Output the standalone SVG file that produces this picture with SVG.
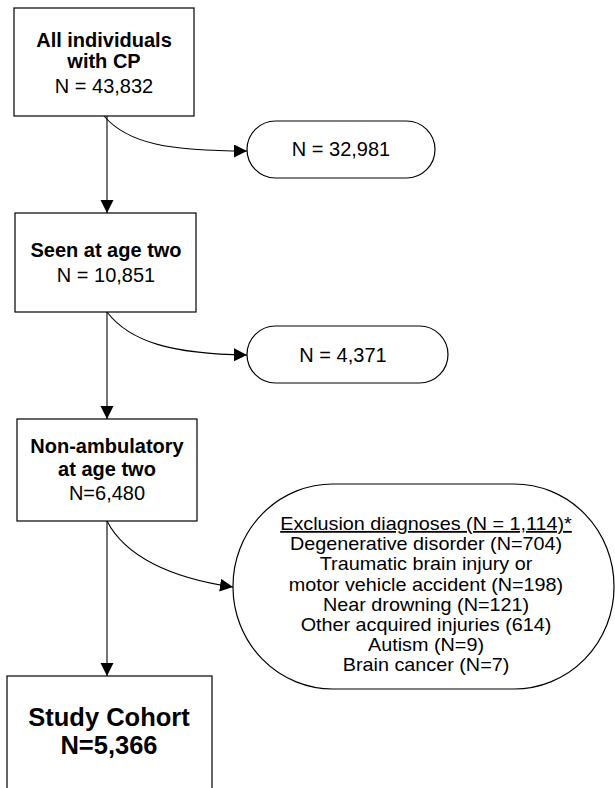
<svg xmlns="http://www.w3.org/2000/svg" width="615" height="788" viewBox="0 0 615 788">
<style>
  .box { fill: #ffffff; stroke: #000000; stroke-width: 1.2; }
  .conn { fill: none; stroke: #000000; stroke-width: 1.1; }
  text { font-family: "Liberation Sans", Arial, sans-serif; fill: #000000; text-anchor: middle; }
  .b { font-weight: bold; font-size: 20px; }
  .r { font-size: 20px; }
  .s { font-size: 18px; }
  .big { font-weight: bold; font-size: 25.5px; }
</style>
<defs>
  <marker id="arrow" markerUnits="userSpaceOnUse" markerWidth="14" markerHeight="14" refX="13" refY="6.5" orient="auto">
    <path d="M0,0 L13,6.5 L0,13 z" fill="#000000"/>
  </marker>
</defs>
<rect width="615" height="788" fill="#ffffff"/>

<g id="connectors">
  <path class="conn" d="M107,116 L107,213" marker-end="url(#arrow)"/>
  <path class="conn" d="M104,116 C128,144 170,151 247,151" marker-end="url(#arrow)"/>
  <path class="conn" d="M107,312 L107,419" marker-end="url(#arrow)"/>
  <path class="conn" d="M107,312 C130,342 172,354 247,355" marker-end="url(#arrow)"/>
  <path class="conn" d="M107,521 L107,676" marker-end="url(#arrow)"/>
  <path class="conn" d="M107,521 C125,556 170,578 233,587" marker-end="url(#arrow)"/>
</g>

<g id="node-all">
  <rect class="box" x="14" y="8" width="180" height="108"/>
  <text class="b" x="104" y="47">All individuals</text>
  <text class="b" x="104" y="68">with CP</text>
  <text class="r" x="104" y="93">N = 43,832</text>
</g>

<g id="node-excl1">
  <rect class="box" x="247" y="121" width="188" height="57" rx="28.5" ry="28.5"/>
  <text class="r" x="341" y="156">N = 32,981</text>
</g>

<g id="node-seen">
  <rect class="box" x="15" y="213" width="181" height="99"/>
  <text class="b" x="106" y="257">Seen at age two</text>
  <text class="r" x="106" y="282">N = 10,851</text>
</g>

<g id="node-excl2">
  <rect class="box" x="247" y="326" width="201" height="57" rx="28.5" ry="28.5"/>
  <text class="r" x="343" y="362">N = 4,371</text>
</g>

<g id="node-nonamb">
  <rect class="box" x="17" y="419" width="180" height="102"/>
  <text class="b" x="107" y="453">Non-ambulatory</text>
  <text class="b" x="107" y="476">at age two</text>
  <text class="r" x="107" y="500">N=6,480</text>
</g>

<g id="node-exclusion">
  <rect class="box" x="233" y="484" width="381" height="205" rx="100" ry="102"/>
  <g transform="translate(426,0) scale(1.1,1)">
    <text class="s" x="0" y="530" text-decoration="underline">Exclusion diagnoses (N = 1,114)*</text>
    <text class="s" x="0" y="550.2">Degenerative disorder (N=704)</text>
    <text class="s" x="0" y="570.4">Traumatic brain injury or</text>
    <text class="s" x="0" y="590.6">motor vehicle accident (N=198)</text>
    <text class="s" x="0" y="610.8">Near drowning (N=121)</text>
    <text class="s" x="0" y="631">Other acquired injuries (614)</text>
    <text class="s" x="0" y="651.2">Autism (N=9)</text>
    <text class="s" x="0" y="671.4">Brain cancer (N=7)</text>
  </g>
</g>

<g id="node-cohort">
  <rect class="box" x="7" y="676" width="205" height="130"/>
  <text class="big" x="109" y="726">Study Cohort</text>
  <text class="big" x="109" y="754">N=5,366</text>
</g>
</svg>
